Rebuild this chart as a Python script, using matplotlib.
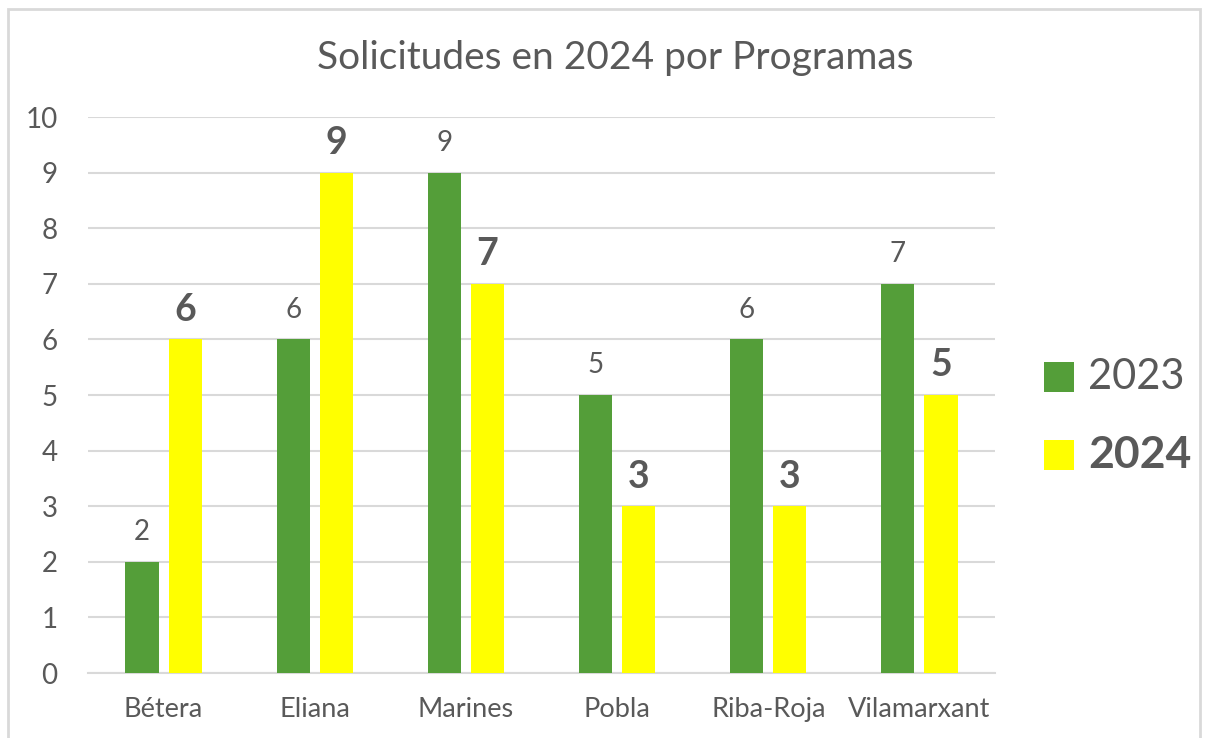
import matplotlib
matplotlib.use("Agg")
import matplotlib.pyplot as plt
from matplotlib.patches import Rectangle
import numpy as np

categories = ["Bétera", "Eliana", "Marines", "Pobla", "Riba-Roja", "Vilamarxant"]
values_2023 = [2, 6, 9, 5, 6, 7]
values_2024 = [6, 9, 7, 3, 3, 5]
series_names = ["2023", "2024"]
title = "Solicitudes en 2024 por Programas"

GREEN = "#549E39"
YELLOW = "#FFFF00"
TXT = "#595959"
GRID = "#D9D9D9"

plt.rcParams['font.family'] = ['Lato', 'DejaVu Sans']

fig = plt.figure(figsize=(12.1, 7.38), dpi=100)
fig.patch.set_facecolor("white")
# outer border
fig.add_artist(Rectangle((8/1210, -0.01), (1200-8)/1210, (738-9)/738 + 0.01,
                         transform=fig.transFigure, fill=False,
                         edgecolor=GRID, linewidth=2))

ax = fig.add_axes([88/1210, 65/738, (995-88)/1210, (673-117)/738])
x = np.arange(len(categories))
w = 0.22
off = 0.143
ax.bar(x - off, values_2023, w, color=GREEN, zorder=3, label=series_names[0])
ax.bar(x + off, values_2024, w, color=YELLOW, zorder=3, label=series_names[1])

ax.set_xlim(-0.5, len(categories) - 0.5)
ax.set_ylim(0, 10)
ax.set_yticks(range(0, 11))
ax.yaxis.grid(True, color=GRID, linewidth=1.5, zorder=0)
ax.set_axisbelow(True)
for s in ["top", "right", "left"]:
    ax.spines[s].set_visible(False)
ax.spines["bottom"].set_color(GRID)
ax.spines["bottom"].set_linewidth(1.5)
ax.tick_params(axis="both", length=0, colors=TXT)
ax.tick_params(axis="y", labelsize=20, pad=22)
ax.tick_params(axis="x", labelsize=19.5, pad=17)
ax.set_xticks(x)
ax.set_xticklabels(categories)

for xi, v in zip(x - off, values_2023):
    ax.annotate(str(v), (xi, v), xytext=(0, 12), textcoords="offset points",
                ha="center", va="bottom", fontsize=20, color=TXT)
for xi, v in zip(x + off, values_2024):
    ax.annotate(str(v), (xi, v), xytext=(0, 9), textcoords="offset points",
                ha="center", va="bottom", fontsize=27, fontweight="bold", color=TXT)

fig.text(615/1210, 1 - 58/738, title, ha="center", va="center", fontsize=28, color=TXT)

# legend
fig.add_artist(Rectangle((1044/1210, 1 - 392/738), 30/1210, 30/738,
                         transform=fig.transFigure, facecolor=GREEN, edgecolor="none"))
fig.add_artist(Rectangle((1044/1210, 1 - 470/738), 30/1210, 30/738,
                         transform=fig.transFigure, facecolor=YELLOW, edgecolor="none"))
fig.text(1088/1210, 1 - 377/738, series_names[0], ha="left", va="center",
         fontsize=30, color=TXT)
fig.text(1088/1210, 1 - 455/738, series_names[1], ha="left", va="center",
         fontsize=32, fontweight="bold", color=TXT)

fig.savefig("out.png", dpi=100)
